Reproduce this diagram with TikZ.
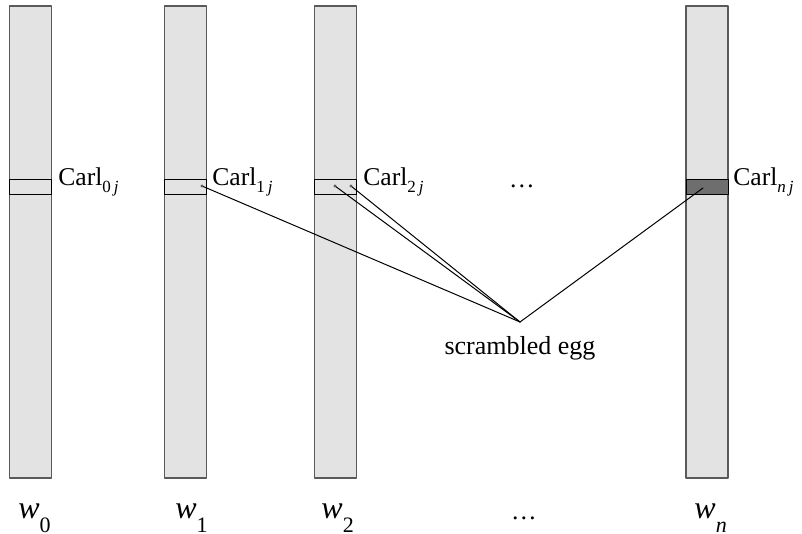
\documentclass[tikz,border=0pt]{standalone}
\usepackage{fontspec}
\setmainfont{Liberation Serif}
\usetikzlibrary{positioning}
\definecolor{colfill}{HTML}{E3E3E3}
\definecolor{colline}{HTML}{5A5A5A}
\definecolor{bandfill}{HTML}{6E6E6E}
\newcommand{\lowsub}[1]{\raisebox{-3.5pt}{\fontsize{8.5}{9}\selectfont #1}}
\newcommand{\wsub}[1]{\raisebox{-7pt}{\fontsize{11}{12}\selectfont #1}}

\begin{document}
\begin{tikzpicture}[x=0.5pt, y=-0.5pt, line cap=round, line join=round,
    column/.style={draw=colline, fill=colfill, line width=0.8pt, minimum width=21pt, minimum height=236pt, inner sep=0pt},
    band/.style={draw=black, line width=0.5pt, minimum width=21pt, minimum height=7.5pt, inner sep=0pt},
    carl/.style={anchor=base west, inner sep=0pt, font=\fontsize{12.8}{14}\selectfont},
    wlbl/.style={anchor=base west, inner sep=0pt, font=\fontsize{16}{18}\selectfont},
    link/.style={line width=0.5pt, color=black}]
    \useasboundingbox (0, 0) rectangle (802, 534);
    % columns
    \node[column] (col0) at (30.5, 242) {};
    \node[column] (col1) at (185.5, 242) {};
    \node[column] (col2) at (335.5, 242) {};
    \node[column] (coln) at (707, 242) {};
    % rows for Carl
    \node[band] (band0) at (30.5, 187.5) {};
    \node[band] (band1) at (185.5, 187.5) {};
    \node[band] (band2) at (335.5, 187.5) {};
    \node[band, fill=bandfill] (bandn) at (707, 187.5) {};
    \node[carl] (carl0) at (58, 185) {Carl\lowsub{0\,\textit{j}}};
    \node[carl] (carl1) at (212, 185) {Carl\lowsub{1\,\textit{j}}};
    \node[carl] (carl2) at (363, 185) {Carl\lowsub{2\,\textit{j}}};
    \node[carl] (carln) at (733, 185) {Carl\lowsub{\textit{n\,j}}};
    \node[carl, anchor=base] (dotstop) at (522, 188) {\ldots};
    % scrambled egg
    \coordinate (egg) at (520, 322);
    \node[below=7pt of egg, inner sep=0pt, font=\fontsize{13}{15}\selectfont] (egglbl) {scrambled egg};
    \coordinate (d1) at (202, 186);
    \coordinate (d2a) at (335, 186);
    \coordinate (d2b) at (351, 186);
    \coordinate (dn) at (703, 188);
    \draw[link] (d1) -- (egg);
    \draw[link] (d2a) -- (egg);
    \draw[link] (d2b) -- (egg);
    \draw[link] (dn) -- (egg);
    \fill[colline] (d1) circle (0.8pt);
    \fill[colline] (d2a) circle (0.8pt);
    \fill[colline] (d2b) circle (0.8pt);
    % labels below
    \node[wlbl] (w0) at (18, 518) {\textit{w}\wsub{0}};
    \node[wlbl] (w1) at (175, 518) {\textit{w}\wsub{1}};
    \node[wlbl] (w2) at (321, 518) {\textit{w}\wsub{2}};
    \node[carl, anchor=base] (dotsbot) at (524, 519) {\ldots};
    \node[wlbl] (wn) at (694, 518) {\textit{w}\wsub{\textit{n}}};
\end{tikzpicture}
\end{document}
